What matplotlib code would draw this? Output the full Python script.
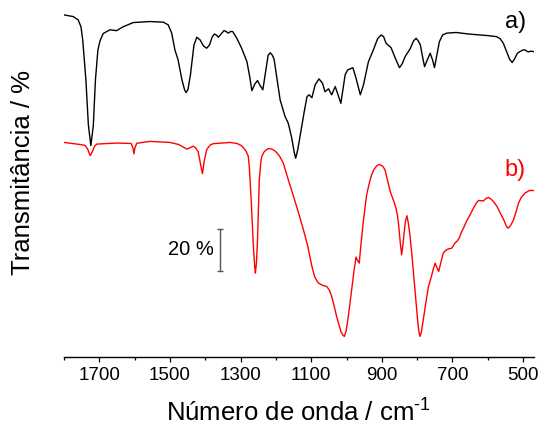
import matplotlib
matplotlib.use("Agg")
import matplotlib.pyplot as plt

plt.rcParams['font.family'] = ['Liberation Sans', 'DejaVu Sans']
plt.rcParams['mathtext.fontset'] = 'custom'
plt.rcParams['mathtext.rm'] = 'Liberation Sans'
plt.rcParams['mathtext.it'] = 'Liberation Sans'

# espectro a) (preto)
wn_a = [1800, 1774, 1760, 1752, 1747, 1738, 1731, 1724, 1717, 1711, 1704,
        1698, 1689, 1670, 1651, 1632, 1604, 1557, 1519, 1505, 1495, 1486,
        1477, 1466, 1458, 1454, 1449, 1442, 1432, 1424, 1415, 1405, 1396,
        1388, 1380, 1374, 1368, 1363, 1355, 1347, 1341, 1335, 1328, 1322,
        1310, 1297, 1282, 1274, 1268, 1260, 1252, 1245, 1237, 1231, 1222,
        1216, 1210, 1205, 1196, 1188, 1174, 1165, 1155, 1148, 1144, 1138,
        1131, 1120, 1112, 1106, 1098, 1089, 1078, 1068, 1061, 1051, 1042,
        1032, 1016, 1004, 997, 982, 973, 961, 952, 938, 924, 912, 902, 895,
        888, 874, 862, 850, 842, 834, 820, 810, 803, 797, 791, 785, 779,
        772, 763, 756, 751, 745, 737, 728, 716, 690, 650, 600, 575, 565,
        556, 545, 538, 531, 525, 516, 509, 500, 495, 486, 478, 471]
t_a = [100, 99.2, 97.6, 94.3, 87.9, 68.6, 46.9, 36.9, 46.5, 68.6, 83.1,
       87.5, 91.0, 92.8, 92.4, 94.3, 96.3, 96.8, 96.5, 95.2, 91.2, 83.1,
       78.3, 68.6, 63.5, 62.5, 64.0, 71.0, 85.5, 89.2, 88.0, 85.0, 83.9,
       85.5, 89.5, 90.8, 90.2, 89.2, 90.8, 92.4, 92.0, 91.2, 92.0, 91.9,
       88.5, 83.9, 77.4, 70.0, 63.4, 66.5, 68.3, 66.0, 63.8, 70.4, 80.5,
       81.7, 80.5, 78.5, 68.0, 58.9, 50.9, 47.7, 40.4, 33.5, 30.8, 35.0,
       42.0, 53.0, 60.5, 61.4, 60.0, 66.2, 69.1, 67.0, 62.9, 64.3, 61.4,
       65.4, 57.3, 71.0, 73.4, 74.5, 69.4, 61.4, 66.2, 77.4, 83.1, 88.5,
       90.3, 89.5, 86.3, 84.2, 79.1, 74.5, 76.5, 79.9, 83.6, 87.5, 88.7,
       87.5, 85.5, 80.0, 75.0, 78.0, 81.5, 78.0, 74.5, 80.0, 87.1, 90.3,
       91.2, 91.5, 90.7, 90.0, 89.5, 88.5, 86.3, 81.5, 78.5, 77.0, 78.5,
       81.5, 82.3, 83.1, 83.1, 82.1, 82.5, 82.3]

# espectro b) (vermelho)
wn_b = [1800, 1750, 1740, 1733, 1726, 1720, 1713, 1707, 1651, 1610, 1605,
        1602, 1599, 1594, 1556, 1520, 1500, 1475, 1460, 1452, 1442, 1435,
        1428, 1420, 1414, 1408, 1403, 1396, 1386, 1377, 1330, 1310, 1297,
        1285, 1278, 1275, 1270, 1264, 1260, 1258, 1255, 1252, 1249, 1247,
        1243, 1240, 1234, 1228, 1222, 1216, 1208, 1200, 1190, 1179, 1165,
        1150, 1136, 1122, 1110, 1098, 1090, 1080, 1068, 1056, 1048, 1042,
        1035, 1028, 1016, 1010, 1006, 1001, 995, 989, 983, 978, 973, 969,
        964, 959, 954, 948, 943, 936, 929, 922, 916, 910, 905, 898, 891,
        883, 875, 867, 860, 856, 853, 848, 844, 840, 837, 833, 829, 825,
        820, 814, 808, 803, 798, 795, 792, 788, 784, 780, 774, 768, 760,
        754, 749, 744, 739, 733, 726, 718, 711, 702, 693, 686, 681, 675,
        669, 660, 650, 640, 630, 626, 618, 612, 605, 598, 590, 582, 574,
        565, 555, 548, 543, 537, 532, 527, 520, 513, 505, 494, 482, 471]
t_b = [100, 98.9, 98.5, 96.8, 93.6, 95.5, 98.3, 99.2, 99.7, 99.5, 97.5,
       94.5, 97.5, 99.6, 100.5, 100.2, 100, 99.0, 97.5, 96.8, 97.5, 98.2,
       97.5, 95.5, 90.0, 84.9, 91.0, 96.5, 98.8, 99.4, 100, 99.5, 98.4,
       96.0, 93.2, 87.6, 72.3, 50.6, 40.0, 36.9, 42.0, 53.0, 70.0, 82.0,
       90.0, 93.2, 95.3, 96.3, 97.0, 97.0, 96.5, 95.5, 93.5, 90.0, 82.0,
       73.9, 66.0, 57.8, 50.0, 40.1, 35.0, 32.1, 31.0, 30.4, 28.5, 25.6,
       21.0, 15.9, 8.7, 6.8, 6.3, 9.0, 15.9, 24.0, 32.1, 39.0, 44.6, 43.0,
       41.7, 51.0, 59.4, 68.0, 74.7, 80.0, 84.4, 87.0, 88.4, 89.3, 89.2,
       88.6, 86.8, 81.0, 75.6, 72.0, 68.3, 65.0, 61.1, 52.0, 45.7, 51.0,
       56.2, 62.0, 64.6, 61.0, 54.6, 44.0, 32.1, 22.0, 12.8, 8.5, 6.3, 8.5,
       13.0, 17.6, 24.0, 30.4, 35.0, 39.0, 41.7, 39.5, 37.7, 42.0, 46.6,
       48.0, 48.6, 48.9, 51.4, 52.5, 53.8, 56.5, 58.6, 62.0, 65.1, 68.5,
       71.3, 72.0, 71.8, 71.8, 73.0, 73.4, 72.5, 71.0, 69.1, 66.0, 62.7,
       59.8, 58.6, 59.5, 61.0, 62.7, 66.5, 70.7, 73.5, 75.6, 76.8, 76.8]

offset_a = 65.0
offset_b = 3.4

fig = plt.figure(figsize=(5.44, 4.28), dpi=100)
ax = fig.add_axes([64 / 544, 1 - 356.5 / 428, (533.7 - 64) / 544, 356.5 / 428])

ax.plot(wn_a, [t + offset_a for t in t_a], color='black', lw=1.0)
ax.plot(wn_b, [t + offset_b for t in t_b], color='red', lw=1.0)

ax.set_xlim(1800, 470)
ax.set_ylim(0, 172.2)

# barra de escala 20 %
ax.errorbar([1358], [51.5], yerr=[10], color='#555555', lw=1.0,
            capsize=2.5, capthick=1.0)
ax.text(1375, 51.5, '20 %', ha='right', va='center', fontsize=14.5)

ax.text(492, 161.4, 'a)', ha='right', va='center', fontsize=17, color='black')
ax.text(492, 90.2, 'b)', ha='right', va='center', fontsize=17, color='red')

for side in ['left', 'right', 'top']:
    ax.spines[side].set_visible(False)
ax.spines['bottom'].set_linewidth(1.0)
ax.set_yticks([])
ax.set_xticks([1700, 1500, 1300, 1100, 900, 700, 500])
ax.set_xticks([1800, 1600, 1400, 1200, 1000, 800, 600], minor=True)
ax.tick_params(axis='x', which='major', direction='out', length=3.8,
               width=0.9, labelsize=13.5, pad=4)
ax.tick_params(axis='x', which='minor', direction='out', length=2.2,
               width=0.9)

fig.text(298 / 544, 1 - 422 / 428, 'Número de onda / cm$^{\\text{-}1}$',
         ha='center', va='baseline', fontsize=18.5)
fig.text(23 / 544, 1 - 172.5 / 428, 'Transmitância / %', rotation=90,
         ha='center', va='center', fontsize=18.5)

fig.savefig('out.png', dpi=100)
